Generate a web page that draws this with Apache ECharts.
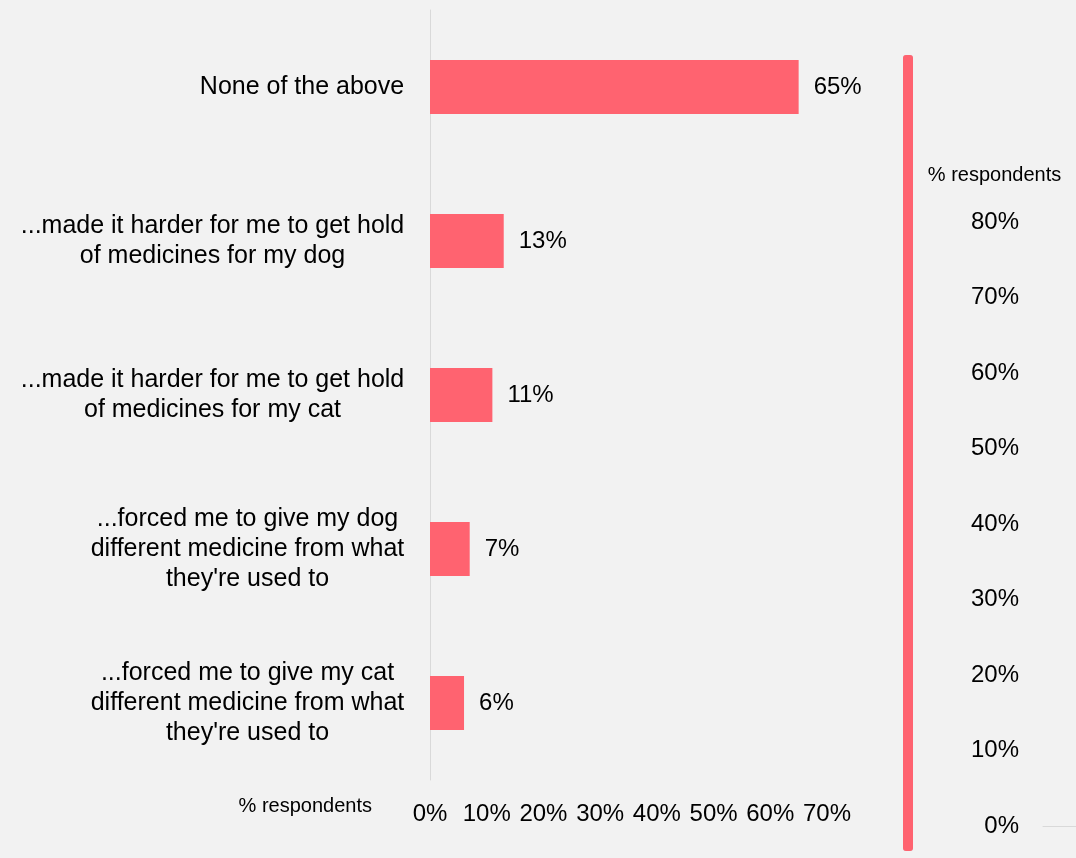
<!DOCTYPE html>
<html>
<head>
<meta charset="utf-8">
<script src="https://cdn.jsdelivr.net/npm/echarts@6/dist/echarts.min.js"></script>
<style>
  html, body { margin: 0; padding: 0; background: #F2F2F2; }
  #chart { width: 1076px; height: 858px; }
</style>
</head>
<body>
<div id="chart"></div>
<script>
// Survey answers, top to bottom
const categories = [
  'None of the above',
  '...made it harder for me to get hold\nof medicines for my dog',
  '...made it harder for me to get hold\nof medicines for my cat',
  '...forced me to give my dog\ndifferent medicine from what\nthey\'re used to',
  '...forced me to give my cat\ndifferent medicine from what\nthey\'re used to'
];
// Share of respondents (%)
const values = [65, 13, 11, 7, 6];
// Tick range of the bar axis and of the colour scale
const xTicks = [0, 10, 20, 30, 40, 50, 60, 70];
const scaleTicks = [0, 10, 20, 30, 40, 50, 60, 70, 80];

const FONT = '"Liberation Sans", Arial, sans-serif';
const RED = '#FF6370';
const CAT_SIZE = 25;
const NUM_SIZE = 24;
const NAME_SIZE = 20;

// Measure each label's widest line so the lines can be centred inside a right-aligned block
const ctx = document.createElement('canvas').getContext('2d');
ctx.font = CAT_SIZE + 'px ' + FONT;
const rich = {};
categories.forEach((c, i) => {
  const w = Math.max(...c.split('\n').map(s => ctx.measureText(s).width));
  rich['l' + i] = { width: Math.ceil(w) + 1, align: 'center', fontSize: CAT_SIZE, lineHeight: 30, fontFamily: FONT, color: '#000' };
});

const chart = echarts.init(document.getElementById('chart'));
chart.setOption({
  backgroundColor: '#F2F2F2',
  textStyle: { fontFamily: FONT },
  grid: [
    { left: 430, right: 249, top: 10, bottom: 78 },
    { left: 1043, right: 0, top: 222, bottom: 32 }
  ],
  xAxis: [
    {
      type: 'value', gridIndex: 0,
      min: xTicks[0], max: xTicks[xTicks.length - 1], interval: 10,
      axisLine: { show: false }, axisTick: { show: false }, splitLine: { show: false },
      axisLabel: { formatter: '{value}%', fontSize: NUM_SIZE, color: '#000', margin: 22 },
      name: '% respondents', nameLocation: 'start', nameGap: 58,
      nameTextStyle: { fontSize: NAME_SIZE, color: '#000', verticalAlign: 'top', padding: [16, 0, 0, 0] }
    },
    {
      type: 'value', gridIndex: 1, min: 0, max: 1,
      axisLine: { show: true, lineStyle: { color: '#D9D9D9', width: 1 } },
      axisTick: { show: false }, axisLabel: { show: false }, splitLine: { show: false }
    }
  ],
  yAxis: [
    {
      type: 'category', gridIndex: 0, data: categories, inverse: true,
      axisLine: { show: true, lineStyle: { color: '#D9D9D9', width: 1 } },
      axisTick: { show: false },
      axisLabel: {
        margin: 25,
        formatter: (v, i) => v.split('\n').map(s => '{l' + i + '|' + s + '}').join('\n'),
        rich: rich
      }
    },
    {
      type: 'value', gridIndex: 1,
      min: scaleTicks[0], max: scaleTicks[scaleTicks.length - 1], interval: 10,
      axisLine: { show: false }, axisTick: { show: false }, splitLine: { show: false },
      axisLabel: { formatter: '{value}%', fontSize: NUM_SIZE, color: '#000', margin: 24 },
      name: '% respondents', nameLocation: 'end', nameGap: 37,
      nameTextStyle: { fontSize: NAME_SIZE, color: '#000', align: 'center', padding: [0, 97, 0, 0] }
    }
  ],
  visualMap: {
    type: 'continuous', seriesIndex: 0,
    min: scaleTicks[0], max: scaleTicks[scaleTicks.length - 1],
    left: 903, top: 55, itemWidth: 10, itemHeight: 796, padding: 0,
    calculable: false, text: null, showLabel: false,
    inRange: { color: [RED, RED] }
  },
  series: [
    {
      type: 'bar', xAxisIndex: 0, yAxisIndex: 0, data: values,
      barWidth: 54,
      itemStyle: { color: RED },
      label: { show: true, position: 'right', distance: 15, formatter: '{c}%', fontSize: NUM_SIZE, color: '#000' }
    },
    { type: 'scatter', xAxisIndex: 1, yAxisIndex: 1, data: [] }
  ]
});
</script>
</body>
</html>
